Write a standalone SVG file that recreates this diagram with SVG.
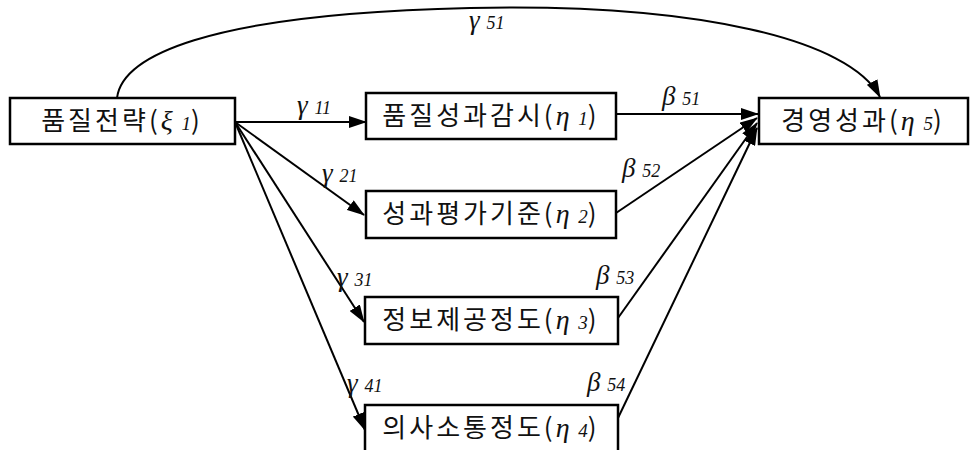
<svg xmlns="http://www.w3.org/2000/svg" width="974" height="450" viewBox="0 0 974 450">
<defs>
<marker id="ah" markerWidth="18" markerHeight="12" refX="17" refY="6" orient="auto" markerUnits="userSpaceOnUse">
<path d="M0,0 L18,6 L0,12 Z" fill="#000"/>
</marker>
<style>
.box{fill:#fff;stroke:#000;stroke-width:2.5}
.lbl{font-family:"Noto Sans CJK KR","Liberation Sans",sans-serif;font-size:26px;letter-spacing:3px;fill:#111}
.gr{font-family:"Liberation Serif",serif;font-style:italic;font-size:28px;letter-spacing:0}
.sub{font-family:"Liberation Serif",serif;font-style:italic;font-size:19px;letter-spacing:0}
.edge{fill:none;stroke:#000;stroke-width:2}
.el{font-family:"Liberation Serif",serif;font-style:italic;font-size:27px;fill:#111}
.es{font-size:18px}
</style>
</defs>
<rect width="974" height="450" fill="#fff"/>
<g id="edges">
<path class="edge" d="M117,98 C122,58 200,14 470,8 C700,3 850,40 880,97" marker-end="url(#ah)"/>
<line class="edge" x1="235" y1="122" x2="366" y2="122" marker-end="url(#ah)"/>
<line class="edge" x1="235" y1="122" x2="364" y2="215" marker-end="url(#ah)"/>
<line class="edge" x1="235" y1="122" x2="364" y2="322" marker-end="url(#ah)"/>
<line class="edge" x1="235" y1="122" x2="365" y2="430" marker-end="url(#ah)"/>
<line class="edge" x1="616" y1="114" x2="758" y2="114" marker-end="url(#ah)"/>
<line class="edge" x1="616" y1="213" x2="757" y2="118" marker-end="url(#ah)"/>
<line class="edge" x1="618" y1="318" x2="757" y2="123" marker-end="url(#ah)"/>
<line class="edge" x1="618" y1="418" x2="757" y2="128" marker-end="url(#ah)"/>
<text class="el" x="469" y="29">γ <tspan class="es">51</tspan></text>
<text class="el" x="297" y="114">γ <tspan class="es">11</tspan></text>
<text class="el" x="322" y="182">γ <tspan class="es">21</tspan></text>
<text class="el" x="337" y="286">γ <tspan class="es">31</tspan></text>
<text class="el" x="347" y="392">γ <tspan class="es">41</tspan></text>
<text class="el" x="662" y="105">β <tspan class="es">51</tspan></text>
<text class="el" x="622" y="177">β <tspan class="es">52</tspan></text>
<text class="el" x="596" y="284">β <tspan class="es">53</tspan></text>
<text class="el" x="587" y="391">β <tspan class="es">54</tspan></text>
</g>
<g id="xi1">
<rect class="box" x="10" y="98" width="225" height="46"/>
<text class="lbl" x="122" y="130" text-anchor="middle">품질전략(<tspan class="gr">ξ</tspan> <tspan class="sub">1</tspan>)</text>
</g>
<g id="eta1">
<rect class="box" x="366" y="93" width="250" height="46"/>
<text class="lbl" x="491" y="125" text-anchor="middle">품질성과감시(<tspan class="gr">η</tspan> <tspan class="sub">1</tspan>)</text>
</g>
<g id="eta2">
<rect class="box" x="366" y="191" width="250" height="47"/>
<text class="lbl" x="491" y="223" text-anchor="middle">성과평가기준(<tspan class="gr">η</tspan> <tspan class="sub">2</tspan>)</text>
</g>
<g id="eta3">
<rect class="box" x="365" y="297" width="253" height="47"/>
<text class="lbl" x="491" y="329" text-anchor="middle">정보제공정도(<tspan class="gr">η</tspan> <tspan class="sub">3</tspan>)</text>
</g>
<g id="eta4">
<rect class="box" x="365" y="405" width="253" height="50"/>
<text class="lbl" x="491" y="437" text-anchor="middle">의사소통정도(<tspan class="gr">η</tspan> <tspan class="sub">4</tspan>)</text>
</g>
<g id="eta5">
<rect class="box" x="759" y="98" width="209" height="46"/>
<text class="lbl" x="863" y="130" text-anchor="middle">경영성과(<tspan class="gr">η</tspan> <tspan class="sub">5</tspan>)</text>
</g>
</svg>
